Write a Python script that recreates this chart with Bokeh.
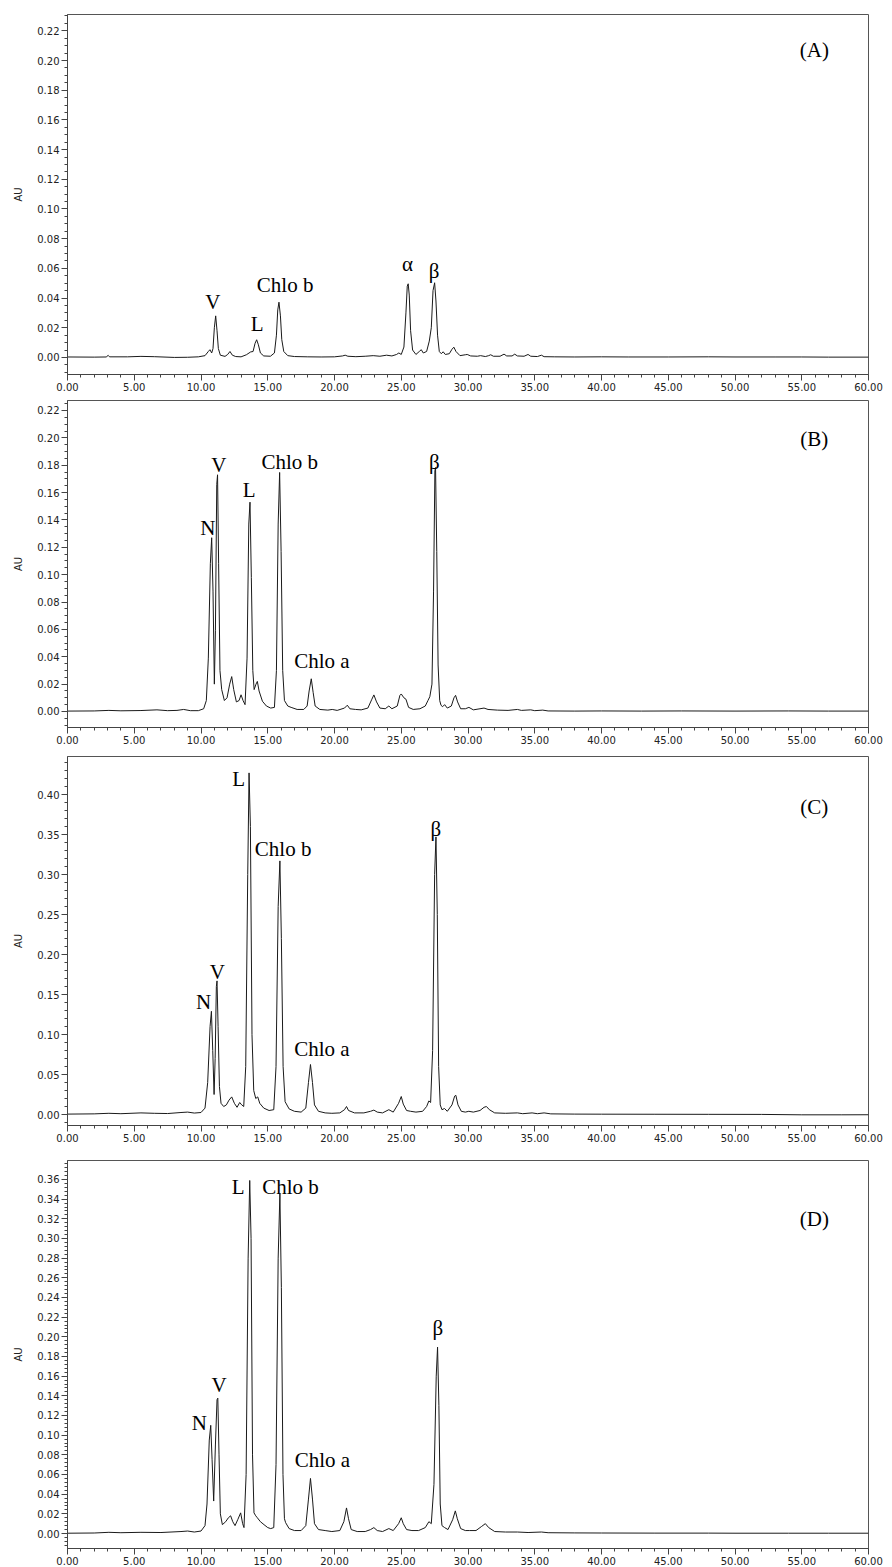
from bokeh.plotting import figure
from bokeh.layouts import column
from bokeh.models import Range1d, FixedTicker, PrintfTickFormatter, ColumnDataSource
from bokeh.core.properties import value
from bokeh.embed import file_html
from bokeh.resources import INLINE

# ---------------- data (retention time [min], absorbance [AU]) ----------------
a_t = [0, 2.0, 2.9, 3.05, 3.15, 4.5, 5.5, 6.5, 8.0, 9.0, 9.8, 10.3, 10.55, 10.67, 10.8, 10.9, 11.0, 11.1, 11.2, 11.3,
       11.45, 11.8, 12.0, 12.17, 12.35, 12.6, 13.0, 13.4, 13.72, 13.9, 14.05, 14.17, 14.3, 14.45, 14.7, 15.2, 15.5,
       15.65, 15.75, 15.84, 15.95, 16.05, 16.2, 16.5, 17.0, 18.0, 19.0, 20.0, 20.6, 20.8, 21.0, 21.6, 22.3, 22.9, 23.4,
       23.9, 24.3, 24.65, 24.82, 25.0, 25.2, 25.35, 25.45, 25.52, 25.6, 25.7, 25.85, 26.1, 26.35, 26.5, 26.65, 26.9,
       27.1, 27.25, 27.38, 27.5, 27.6, 27.72, 27.85, 28.0, 28.14, 28.3, 28.6, 28.8, 28.94, 29.1, 29.4, 29.8, 29.94,
       30.2, 30.7, 30.94, 31.3, 31.55, 31.7, 31.9, 32.4, 32.7, 32.9, 33.3, 33.5, 33.7, 34.2, 34.5, 34.7, 35.2, 35.5,
       35.7, 36.5, 38, 40, 42, 45, 48, 50, 53, 55, 57, 60]
a_v = [0.0003, 0.0002, 0.0003, 0.0014, 0.0004, 0.0004, 0.0007, 0.0005, 0.0000, 0.0001, 0.0004, 0.0012, 0.0040, 0.0052,
       0.0030, 0.0060, 0.0200, 0.0280, 0.0180, 0.0060, 0.0015, 0.0007, 0.0020, 0.0040, 0.0015, 0.0006, 0.0004, 0.0018,
       0.0037, 0.0040, 0.0095, 0.0119, 0.0085, 0.0030, 0.0010, 0.0008, 0.0030, 0.0150, 0.0320, 0.0372, 0.0280, 0.0120,
       0.0040, 0.0012, 0.0006, 0.0004, 0.0003, 0.0004, 0.0010, 0.0015, 0.0008, 0.0005, 0.0008, 0.0012, 0.0008, 0.0015,
       0.0010, 0.0020, 0.0030, 0.0020, 0.0070, 0.0300, 0.0480, 0.0496, 0.0420, 0.0180, 0.0050, 0.0020, 0.0040, 0.0052,
       0.0030, 0.0040, 0.0110, 0.0200, 0.0450, 0.0503, 0.0380, 0.0150, 0.0040, 0.0025, 0.0038, 0.0020, 0.0025, 0.0055,
       0.0069, 0.0040, 0.0012, 0.0018, 0.0020, 0.0010, 0.0008, 0.0012, 0.0006, 0.0012, 0.0018, 0.0008, 0.0008, 0.0022,
       0.0010, 0.0010, 0.0022, 0.0010, 0.0008, 0.0020, 0.0008, 0.0006, 0.0015, 0.0005, 0.0004, 0.0003, 0.0004, 0.0003,
       0.0003, 0.0004, 0.0003, 0.0003, 0.0003, 0.0002, 0.0002]

b_t = [0, 2, 3.1, 4, 5.5, 6.7, 7.5, 8.2, 8.7, 9.2, 9.8, 10.2, 10.4, 10.55, 10.7, 10.8, 10.9, 11.0, 11.08, 11.18, 11.24,
       11.32, 11.42, 11.55, 11.75, 11.95, 12.15, 12.3, 12.45, 12.65, 12.85, 13.0, 13.15, 13.3, 13.45, 13.58, 13.67,
       13.77, 13.88, 13.98, 14.12, 14.22, 14.35, 14.6, 14.9, 15.22, 15.5, 15.65, 15.78, 15.89, 16.0, 16.12, 16.25, 16.5,
       16.75, 17.2, 17.7, 17.95, 18.1, 18.26, 18.4, 18.55, 18.9, 19.5, 19.83, 20.2, 20.75, 20.96, 21.15, 21.57, 22.0,
       22.5, 22.8, 22.95, 23.15, 23.4, 23.8, 24.07, 24.3, 24.7, 24.9, 25.0, 25.2, 25.35, 25.55, 25.9, 26.4, 26.8, 27.0,
       27.14, 27.3, 27.42, 27.52, 27.57, 27.66, 27.76, 27.88, 27.98, 28.1, 28.25, 28.45, 28.75, 28.95, 29.07, 29.22,
       29.45, 29.8, 30.07, 30.4, 30.9, 31.2, 31.5, 32.2, 33.0, 33.7, 34.0, 34.7, 35.0, 35.6, 36, 38, 40, 43, 46, 50, 54,
       57, 60]
b_v = [0.0003, 0.0004, 0.0008, 0.0005, 0.0007, 0.0012, 0.0006, 0.0008, 0.0015, 0.0006, 0.0006, 0.0020, 0.0080, 0.0390,
       0.1080, 0.1270, 0.0880, 0.0200, 0.0590, 0.1660, 0.1730, 0.1080, 0.0300, 0.0160, 0.0080, 0.0100, 0.0200, 0.0255,
       0.0160, 0.0070, 0.0080, 0.0122, 0.0080, 0.0050, 0.0390, 0.1370, 0.1530, 0.0980, 0.0300, 0.0160, 0.0200, 0.0220,
       0.0150, 0.0075, 0.0040, 0.0025, 0.0030, 0.0300, 0.1370, 0.1747, 0.1170, 0.0300, 0.0080, 0.0040, 0.0030, 0.0015,
       0.0015, 0.0040, 0.0150, 0.0239, 0.0140, 0.0040, 0.0015, 0.0010, 0.0015, 0.0008, 0.0025, 0.0046, 0.0020, 0.0015,
       0.0012, 0.0025, 0.0090, 0.0121, 0.0070, 0.0025, 0.0020, 0.0040, 0.0020, 0.0040, 0.0118, 0.0128, 0.0100, 0.0090,
       0.0030, 0.0015, 0.0020, 0.0040, 0.0080, 0.0108, 0.0200, 0.0880, 0.1760, 0.1783, 0.1170, 0.0340, 0.0080, 0.0045,
       0.0035, 0.0050, 0.0025, 0.0040, 0.0100, 0.0118, 0.0070, 0.0020, 0.0020, 0.0030, 0.0012, 0.0020, 0.0025, 0.0015,
       0.0010, 0.0008, 0.0015, 0.0008, 0.0012, 0.0006, 0.0010, 0.0004, 0.0003, 0.0004, 0.0003, 0.0004, 0.0003, 0.0004,
       0.0003, 0.0003]

c_t = [0, 2, 3.1, 4, 5.5, 6.5, 7.5, 8.5, 9.0, 9.5, 10.0, 10.3, 10.5, 10.68, 10.78, 10.88, 10.98, 11.06, 11.15, 11.2,
       11.28, 11.38, 11.5, 11.7, 11.9, 12.1, 12.3, 12.5, 12.7, 12.9, 13.05, 13.2, 13.35, 13.5, 13.6, 13.7, 13.82, 13.95,
       14.1, 14.25, 14.4, 14.7, 15.1, 15.45, 15.62, 15.78, 15.91, 16.02, 16.15, 16.3, 16.6, 17.0, 17.5, 17.85, 18.05,
       18.2, 18.35, 18.5, 18.8, 19.3, 19.8, 20.4, 20.75, 20.9, 21.05, 21.5, 22.2, 22.7, 22.95, 23.2, 23.6, 24.07, 24.4,
       24.8, 25.0, 25.15, 25.4, 25.7, 26.1, 26.6, 26.9, 27.07, 27.2, 27.35, 27.5, 27.6, 27.7, 27.8, 27.92, 28.05, 28.24,
       28.45, 28.8, 29.0, 29.09, 29.25, 29.5, 29.8, 30.06, 30.4, 30.9, 31.2, 31.38, 31.6, 32.0, 32.8, 33.7, 34.1, 34.8,
       35.2, 35.7, 36.2, 38, 40, 44, 48, 52, 55, 58, 60]
c_v = [0.0005, 0.0008, 0.0015, 0.0010, 0.0020, 0.0015, 0.0012, 0.0025, 0.0030, 0.0018, 0.0025, 0.008, 0.040, 0.110,
       0.129, 0.080, 0.025, 0.070, 0.160, 0.167, 0.110, 0.035, 0.014, 0.010, 0.012, 0.018, 0.022, 0.014, 0.009, 0.015,
       0.012, 0.010, 0.060, 0.300, 0.427, 0.360, 0.100, 0.030, 0.020, 0.022, 0.014, 0.008, 0.005, 0.006, 0.060, 0.260,
       0.317, 0.220, 0.060, 0.016, 0.007, 0.004, 0.003, 0.008, 0.040, 0.0625, 0.040, 0.012, 0.004, 0.002, 0.0015, 0.002,
       0.006, 0.010, 0.005, 0.002, 0.002, 0.004, 0.0055, 0.003, 0.002, 0.006, 0.003, 0.014, 0.0225, 0.013, 0.005, 0.004,
       0.003, 0.004, 0.010, 0.017, 0.015, 0.080, 0.300, 0.347, 0.250, 0.060, 0.012, 0.006, 0.0075, 0.004, 0.012, 0.023,
       0.024, 0.012, 0.004, 0.003, 0.004, 0.003, 0.005, 0.009, 0.010, 0.006, 0.002, 0.0015, 0.002, 0.001, 0.002, 0.001,
       0.002, 0.0008, 0.0005, 0.0004, 0.0003, 0.0002, 0.0001, -0.0004, -0.0004, -0.0003]

d_t = [0, 2, 3.1, 4, 5.5, 7, 8.5, 9.0, 9.5, 10.0, 10.3, 10.45, 10.62, 10.73, 10.83, 10.95, 11.08, 11.2, 11.26, 11.35,
       11.45, 11.6, 11.85, 12.05, 12.22, 12.38, 12.55, 12.75, 12.97, 13.12, 13.22, 13.38, 13.53, 13.65, 13.75, 13.86,
       13.97, 14.1, 14.22, 14.45, 14.72, 15.0, 15.22, 15.45, 15.62, 15.78, 15.91, 16.02, 16.14, 16.25, 16.34, 16.6, 17.0,
       17.5, 17.85, 18.05, 18.2, 18.35, 18.5, 18.8, 19.3, 19.8, 20.4, 20.7, 20.9, 21.05, 21.25, 21.7, 22.3, 22.7, 22.95,
       23.2, 23.6, 24.07, 24.4, 24.8, 25.0, 25.15, 25.4, 25.8, 26.3, 26.8, 27.07, 27.25, 27.45, 27.62, 27.72, 27.82,
       27.92, 28.05, 28.25, 28.5, 28.85, 29.05, 29.2, 29.45, 29.8, 30.1, 30.6, 31.0, 31.3, 31.55, 32.0, 32.8, 33.7, 34.5,
       35.5, 36, 38, 40, 44, 48, 50, 54, 57, 60]
d_v = [0.0003, 0.0005, 0.0012, 0.0008, 0.0012, 0.0010, 0.0020, 0.0025, 0.0015, 0.0025, 0.008, 0.030, 0.095, 0.110,
       0.075, 0.033, 0.090, 0.136, 0.1376, 0.080, 0.020, 0.009, 0.012, 0.016, 0.018, 0.012, 0.008, 0.014, 0.021, 0.010,
       0.006, 0.060, 0.280, 0.359, 0.300, 0.080, 0.021, 0.018, 0.016, 0.012, 0.009, 0.006, 0.005, 0.006, 0.070, 0.280,
       0.3455, 0.250, 0.060, 0.015, 0.011, 0.005, 0.003, 0.003, 0.008, 0.035, 0.056, 0.035, 0.010, 0.004, 0.003, 0.002,
       0.003, 0.012, 0.026, 0.015, 0.004, 0.002, 0.002, 0.004, 0.006, 0.003, 0.002, 0.005, 0.003, 0.010, 0.016, 0.010,
       0.004, 0.003, 0.003, 0.006, 0.012, 0.010, 0.050, 0.160, 0.1895, 0.130, 0.030, 0.008, 0.006, 0.004, 0.014, 0.023,
       0.015, 0.005, 0.003, 0.003, 0.003, 0.007, 0.010, 0.006, 0.002, 0.0015, 0.0015, 0.001, 0.0015, 0.0008, 0.0006,
       0.0005, 0.0004, 0.0004, 0.0003, 0.0003, 0.0003, 0.0003]

# peak labels: text, retention time of label, AU of label baseline
a_lab = ["V", "L", "Chlo b", "α", "β", "(A)"]
a_lab_t = [10.88, 14.2, 16.3, 25.47, 27.46, 55.94]
a_lab_v = [0.033, 0.0182, 0.0446, 0.0586, 0.054, 0.203]

b_lab = ["N", "V", "L", "Chlo b", "Chlo a", "β", "(B)"]
b_lab_t = [10.52, 11.33, 13.6, 16.65, 19.06, 27.48, 55.94]
b_lab_v = [0.1297, 0.1759, 0.1577, 0.1783, 0.0323, 0.178, 0.195]

c_lab = ["N", "V", "L", "Chlo b", "Chlo a", "β", "(C)"]
c_lab_t = [10.2, 11.23, 12.82, 16.15, 19.06, 27.6, 55.94]
c_lab_v = [0.133, 0.171, 0.4125, 0.324, 0.075, 0.349, 0.3765]

d_lab = ["N", "V", "L", "Chlo b", "Chlo a", "β", "(D)"]
d_lab_t = [9.88, 11.35, 12.78, 16.71, 19.09, 27.75, 55.94]
d_lab_v = [0.1065, 0.1454, 0.3464, 0.3464, 0.069, 0.2024, 0.3134]

x_major = [0, 5, 10, 15, 20, 25, 30, 35, 40, 45, 50, 55, 60]


def make_panel(t, v, labs, lab_t, lab_v, y0, y1, ystep, nminor, top, fh, bottom):
    p = figure(frame_width=801, frame_height=fh, min_border_left=67, min_border_right=24,
               min_border_top=top, min_border_bottom=bottom,
               x_range=Range1d(0, 60), y_range=Range1d(y0, y1),
               output_backend="svg", toolbar_location=None)
    p.grid.visible = False
    p.background_fill_color = "white"
    p.border_fill_color = "white"
    p.outline_line_color = "#555555"
    p.outline_line_width = 1

    p.line(t, v, line_color="#1a1a1a", line_width=1)

    src = ColumnDataSource(dict(x=lab_t, y=lab_v, text=labs))
    p.text(x="x", y="y", text="text", source=src, text_font=value("Liberation Serif"),
           text_font_size=value("21px"), text_align="center", text_baseline="alphabetic",
           text_color="black", y_offset=-6)

    # x axis
    xa = p.xaxis[0]
    xa.ticker = FixedTicker(ticks=x_major, minor_ticks=list(range(0, 61)))
    xa.formatter = PrintfTickFormatter(format="%.2f")
    xa.major_label_text_font = "DejaVu Sans"
    xa.major_label_text_font_size = "10px"
    xa.major_label_text_color = "#222222"
    xa.major_tick_out = 6
    xa.major_tick_in = 0
    xa.minor_tick_out = 3
    xa.minor_tick_in = 0
    xa.major_label_standoff = 2
    xa.axis_line_color = "#444444"
    xa.major_tick_line_color = "#444444"
    xa.minor_tick_line_color = "#444444"

    # y axis
    nmaj = int(round(y1 / ystep)) + 1
    yt = [round(i * ystep, 4) for i in range(nmaj) if i * ystep <= y1]
    mstep = ystep / nminor
    ym = []
    k = int(y0 / mstep) - 1
    while k * mstep <= y1:
        val = k * mstep
        if val >= y0:
            ym.append(round(val, 5))
        k += 1
    ya = p.yaxis[0]
    ya.ticker = FixedTicker(ticks=yt, minor_ticks=ym)
    ya.formatter = PrintfTickFormatter(format="%.2f")
    ya.major_label_text_font = "DejaVu Sans"
    ya.major_label_text_font_size = "10px"
    ya.major_label_text_color = "#222222"
    ya.major_tick_out = 6
    ya.major_tick_in = 0
    ya.minor_tick_out = 3
    ya.minor_tick_in = 0
    ya.major_label_standoff = 2
    ya.axis_label = "AU"
    ya.axis_label_text_font = "DejaVu Sans"
    ya.axis_label_text_font_size = "10px"
    ya.axis_label_text_font_style = "normal"
    ya.axis_label_text_color = "#222222"
    ya.axis_label_standoff = 10
    ya.axis_line_color = "#444444"
    ya.major_tick_line_color = "#444444"
    ya.minor_tick_line_color = "#444444"
    return p


pA = make_panel(a_t, a_v, a_lab, a_lab_t, a_lab_v, -0.0115, 0.231, 0.02, 4, 14, 360, 21)
pB = make_panel(b_t, b_v, b_lab, b_lab_t, b_lab_v, -0.0117, 0.2273, 0.02, 4, 5, 327, 23)
pC = make_panel(c_t, c_v, c_lab, c_lab_t, c_lab_v, -0.01375, 0.4475, 0.05, 5, 6, 369, 25)
pD = make_panel(d_t, d_v, d_lab, d_lab_t, d_lab_v, -0.01525, 0.3793, 0.02, 5, 10, 388, 19)

layout = column(pA, pB, pC, pD, spacing=0)
open("out.html", "w").write(file_html(layout, INLINE))
